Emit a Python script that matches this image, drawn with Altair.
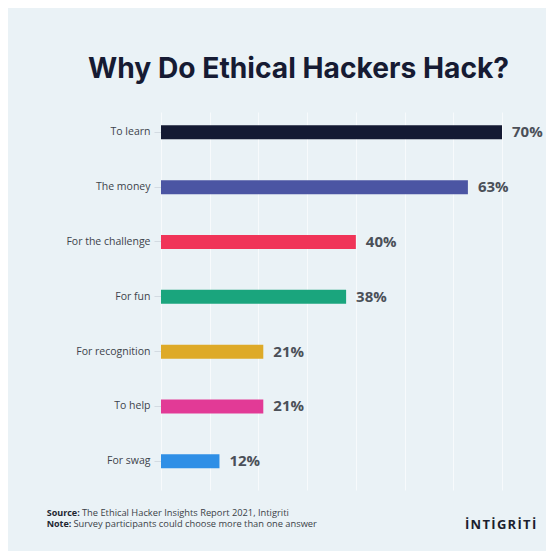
import altair as alt
import pandas as pd

categories = ["To learn", "The money", "For the challenge", "For fun",
              "For recognition", "To help", "For swag"]
values = [70, 63, 40, 38, 21, 21, 12]
colors = ["#141A33", "#4B55A3", "#F03458", "#1AA57D", "#DEAA28", "#E23A96", "#2F8FE6"]
labels = [f"{v}%" for v in values]

df = pd.DataFrame({"cat": categories, "val": values, "lab": labels})

BG = "#EAF2F6"

y_enc = alt.Y("cat:N", sort=categories, title=None,
              scale=alt.Scale(paddingInner=0.7447, paddingOuter=0.319, align=0.38),
              axis=alt.Axis(domain=False, ticks=True, tickSize=7, tickColor="#D3DBE2",
                            labelPadding=4, labelFontSize=10.5, labelColor="#3D434B",
                            labelFont="Open Sans", grid=False))
x_enc = alt.X("val:Q", title=None, scale=alt.Scale(domain=[0, 70], nice=False),
              axis=alt.Axis(values=list(range(0, 71, 10)), labels=False, ticks=False,
                            domain=False, grid=True, gridColor="#F7FAFC", gridWidth=1))

bars = alt.Chart(df).mark_bar().encode(
    x=x_enc, y=y_enc,
    color=alt.Color("cat:N", scale=alt.Scale(domain=categories, range=colors), legend=None),
)

vals = alt.Chart(df).mark_text(align="left", baseline="middle", dx=10, fontSize=15,
                               fontWeight="bold", font="Open Sans", color="#4B5058").encode(
    x="val:Q", y=alt.Y("cat:N", sort=categories), text="lab:N")

def note(text, x, y, bold=False, size=9.3, color="#3A3F47", font="Open Sans"):
    return alt.Chart(pd.DataFrame({"t": [text]})).mark_text(
        align="left", baseline="middle", fontSize=size, font=font,
        fontWeight="bold" if bold else "normal", color=color
    ).encode(text="t:N", x=alt.value(x), y=alt.value(y))

logo_text = "\u200a".join("İNTİGRİTİ")

footer = [
    note("Source:", -114.3, 401, bold=True, size=9, color="#222630"),
    note("The Ethical Hacker Insights Report 2021, Intigriti", -79, 401),
    note("Note:", -114.3, 412, bold=True, size=9, color="#222630"),
    note("Survey participants could choose more than one answer", -87.5, 412),
    note(logo_text, 304, 413, bold=True, size=13, color="#1B1E2E"),
]

chart = alt.layer(bars, vals, *footer).properties(
    width=341, height=378,
    background=BG,
    padding={"left": 153, "top": 104, "right": 44, "bottom": 61},
    autosize=alt.AutoSizeParams(type="none"),
    title=alt.TitleParams("Why Do Ethical Hackers Hack?", anchor="start", frame="group",
                          dx=-73, offset=6, baseline="alphabetic", font="Inter",
                          fontSize=28.2, fontWeight=700, color="#161B33"),
).configure_view(stroke=None)

chart.save("out.html", embed_options={"renderer": "svg", "actions": False})
